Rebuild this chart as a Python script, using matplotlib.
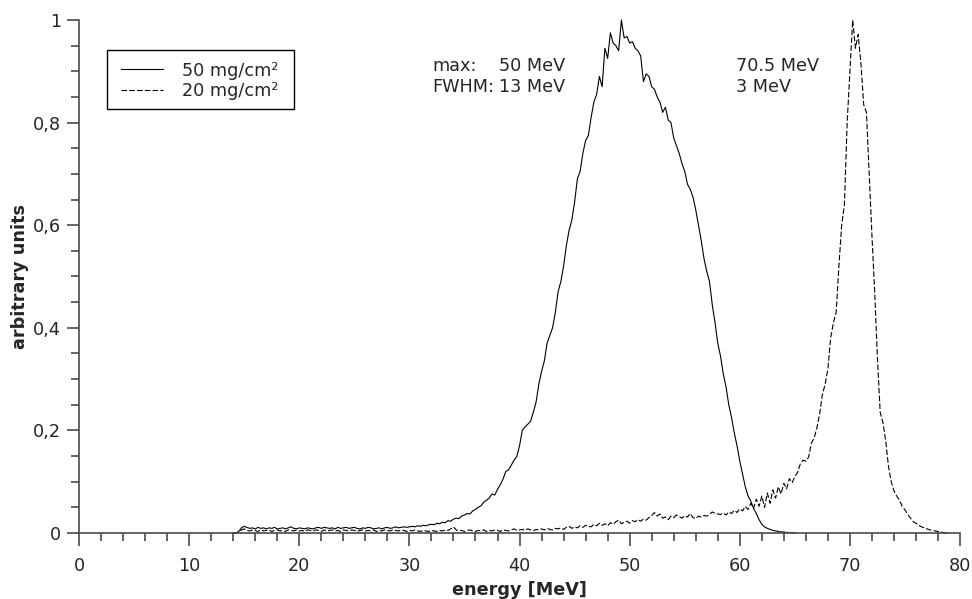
import numpy as np
import matplotlib
matplotlib.use("Agg")
import matplotlib.pyplot as plt
from matplotlib.patches import Rectangle
from matplotlib.ticker import MultipleLocator, FuncFormatter

# spectra, 0.25 MeV bins starting at 14 MeV (one row = 1 MeV)
thick_50 = [
    0, 0, 0.003, 0.010,
    0.013, 0.011, 0.009, 0.010,
    0.008, 0.011, 0.009, 0.010,
    0.008, 0.010, 0.009, 0.011,
    0.008, 0.009, 0.010, 0.008,
    0.010, 0.012, 0.009, 0.008,
    0.010, 0.009, 0.008, 0.010,
    0.009, 0.008, 0.010, 0.011,
    0.009, 0.011, 0.010, 0.009,
    0.010, 0.008, 0.011, 0.009,
    0.010, 0.011, 0.009, 0.010,
    0.011, 0.009, 0.008, 0.010,
    0.009, 0.011, 0.010, 0.008,
    0.009, 0.010, 0.008, 0.010,
    0.011, 0.009, 0.010, 0.012,
    0.010, 0.011, 0.012, 0.011,
    0.012, 0.013, 0.012, 0.014,  # 30
    0.013, 0.015, 0.014, 0.016,
    0.017, 0.016, 0.019, 0.018,
    0.021, 0.020, 0.024, 0.023,
    0.027, 0.029, 0.028, 0.033,
    0.035, 0.038, 0.037, 0.043,
    0.046, 0.050, 0.053, 0.060,
    0.064, 0.068, 0.076, 0.074,
    0.085, 0.094, 0.105, 0.120,
    0.123, 0.132, 0.142, 0.149,
    0.170, 0.200, 0.207, 0.212,  # 40
    0.218, 0.235, 0.255, 0.290,
    0.315, 0.335, 0.370, 0.385,
    0.400, 0.430, 0.470, 0.490,
    0.520, 0.560, 0.590, 0.610,
    0.645, 0.690, 0.705, 0.740,
    0.765, 0.775, 0.810, 0.840,
    0.855, 0.890, 0.870, 0.945,
    0.925, 0.975, 0.955, 0.950,
    0.940, 1.000, 0.965, 0.968,
    0.955, 0.958, 0.945, 0.940,  # 50
    0.930, 0.880, 0.895, 0.890,
    0.870, 0.865, 0.850, 0.840,
    0.820, 0.830, 0.805, 0.800,
    0.770, 0.755, 0.740, 0.720,
    0.705, 0.680, 0.670, 0.655,
    0.630, 0.600, 0.570, 0.535,
    0.510, 0.490, 0.445, 0.410,
    0.370, 0.345, 0.310, 0.285,
    0.250, 0.225, 0.195, 0.170,
    0.140, 0.115, 0.090, 0.072,  # 60
    0.062, 0.048, 0.038, 0.026,
    0.017, 0.012, 0.009, 0.007,
    0.005, 0.004, 0.003, 0.002,
    0.002, 0.001, 0.001, 0.0005,
    0,
]

thin_20 = [
    0, 0, 0.002, 0.006,
    0.008, 0.005, 0.004, 0.006,
    0.005, 0.003, 0.006, 0.004,
    0.005, 0.006, 0.003, 0.005,
    0.006, 0.004, 0.005, 0.003,
    0.006, 0.005, 0.004, 0.006,
    0.004, 0.005, 0.003, 0.006,
    0.005, 0.004, 0.006, 0.005,
    0.003, 0.006, 0.004, 0.005,
    0.006, 0.004, 0.005, 0.003,
    0.006, 0.005, 0.004, 0.006,
    0.005, 0.003, 0.005, 0.006,
    0.004, 0.005, 0.004, 0.006,
    0.003, 0.005, 0.004, 0.006,
    0.005, 0.004, 0.006, 0.005,
    0.004, 0.006, 0.005, 0.003,
    0.005, 0.004, 0.006, 0.004,  # 30
    0.003, 0.005, 0.004, 0.003,
    0.005, 0.004, 0.003, 0.005,
    0.004, 0.006, 0.005, 0.008,
    0.012, 0.006, 0.004, 0.005,
    0.003, 0.005, 0.006, 0.004,
    0.003, 0.005, 0.004, 0.006,
    0.003, 0.005, 0.004, 0.006,
    0.005, 0.003, 0.006, 0.005,
    0.004, 0.006, 0.008, 0.005,
    0.006, 0.007, 0.005, 0.008,  # 40
    0.006, 0.004, 0.007, 0.006,
    0.008, 0.006, 0.009, 0.007,
    0.006, 0.009, 0.008, 0.010,
    0.007, 0.011, 0.013, 0.009,
    0.012, 0.010, 0.014, 0.011,
    0.015, 0.013, 0.012, 0.017,
    0.014, 0.019, 0.015, 0.018,
    0.014, 0.020, 0.017, 0.022,
    0.025, 0.018, 0.021, 0.023,
    0.019, 0.024, 0.022, 0.026,  # 50
    0.023, 0.027, 0.025, 0.030,
    0.034, 0.040, 0.033, 0.037,
    0.029, 0.031, 0.026, 0.033,
    0.030, 0.035, 0.032, 0.029,
    0.034, 0.031, 0.038, 0.030,
    0.028, 0.033, 0.031, 0.034,
    0.033, 0.036, 0.041, 0.038,
    0.037, 0.036, 0.039, 0.035,
    0.041, 0.038, 0.044, 0.040,
    0.047, 0.043, 0.052, 0.046,  # 60
    0.058, 0.048, 0.066, 0.052,
    0.072, 0.050, 0.078, 0.058,
    0.084, 0.068, 0.090, 0.076,
    0.097, 0.086, 0.106, 0.098,
    0.110, 0.118, 0.135, 0.142,
    0.140, 0.148, 0.175, 0.185,
    0.205, 0.232, 0.270, 0.290,
    0.320, 0.380, 0.410, 0.430,
    0.520, 0.600, 0.640, 0.800,
    0.900, 1.000, 0.945, 0.972,  # 70
    0.915, 0.835, 0.820, 0.700,
    0.580, 0.470, 0.340, 0.235,
    0.215, 0.180, 0.130, 0.100,
    0.082, 0.072, 0.064, 0.052,
    0.045, 0.036, 0.029, 0.022,
    0.019, 0.015, 0.012, 0.010,
    0.008, 0.006, 0.005, 0.004,
    0.003, 0.002, 0.001, 0.0005,
    0,
]

e_start = 14.0
bin_width = 0.25
labels = ["50 mg/cm²", "20 mg/cm²"]

energy_50 = e_start + bin_width * np.arange(len(thick_50))
energy_20 = e_start + bin_width * np.arange(len(thin_20))

text_col = "#262626"
axis_col = "#4a4a4a"
plt.rcParams["font.family"] = "DejaVu Sans"
plt.rcParams["font.size"] = 12.7

fig = plt.figure(figsize=(9.72, 5.99), dpi=100)
ax = fig.add_axes([0.0813, 0.1102, 0.9064, 0.8564])

ax.plot(energy_50, thick_50, color="black", lw=0.8, label=labels[0], clip_on=False)
ax.plot(energy_20, thin_20, color="black", lw=0.8, dashes=(5, 2),
        label=labels[1], clip_on=False)

ax.set_xlim(0, 80)
ax.set_ylim(0, 1)
for side in ["top", "right"]:
    ax.spines[side].set_visible(False)
for side in ["left", "bottom"]:
    ax.spines[side].set_color(axis_col)
    ax.spines[side].set_linewidth(1.2)

ax.xaxis.set_major_locator(MultipleLocator(10))
ax.xaxis.set_minor_locator(MultipleLocator(2))
ax.yaxis.set_major_locator(MultipleLocator(0.2))
ax.yaxis.set_minor_locator(MultipleLocator(0.05))
ax.yaxis.set_major_formatter(FuncFormatter(lambda v, p: f"{v:g}".replace(".", ",")))

ax.tick_params(which="major", length=9, width=1.2, color=axis_col, labelcolor=text_col)
ax.tick_params(which="minor", length=6, width=1.2, color=axis_col)
ax.tick_params(axis="x", which="major", pad=8)
ax.tick_params(axis="y", which="major", pad=4)

ax.set_xlabel("energy [MeV]", fontweight="bold", color=text_col)
ax.set_ylabel("arbitrary units", fontweight="bold", color=text_col)
ax.xaxis.set_label_coords(0.5, -0.093)
ax.yaxis.set_label_coords(-0.057, 0.5)

# peak annotations
ax.text(32.05, 0.9006, "max:", color=text_col, va="baseline")
ax.text(32.05, 0.8596, "FWHM:", color=text_col, va="baseline")
ax.text(38.14, 0.9006, "50 MeV", color=text_col, va="baseline")
ax.text(38.14, 0.8596, "13 MeV", color=text_col, va="baseline")
ax.text(59.66, 0.9006, "70.5 MeV", color=text_col, va="baseline")
ax.text(59.66, 0.8596, "3 MeV", color=text_col, va="baseline")

# legend: entries without frame, box drawn separately
ax.add_patch(Rectangle((0.0318, 0.8265), 0.2122, 0.115, transform=ax.transAxes,
                       facecolor="white", edgecolor="black", lw=1.0, zorder=4))
leg = ax.legend(loc="upper left", bbox_to_anchor=(0.0477, 0.919), borderaxespad=0,
                frameon=False, borderpad=0, handlelength=2.4, handletextpad=1.08,
                labelspacing=0.15)
leg.set_zorder(5)
for t in leg.get_texts():
    t.set_color(text_col)

fig.savefig("out.png", dpi=100)
